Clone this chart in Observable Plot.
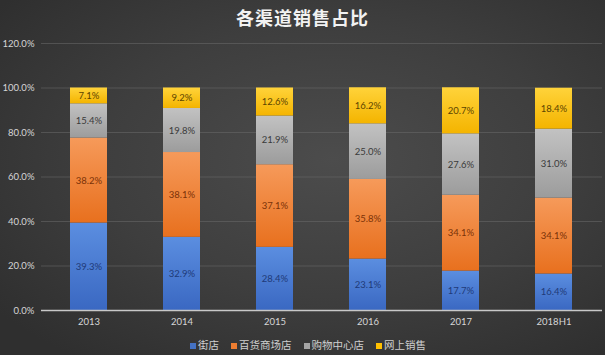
<!DOCTYPE html>
<html><head><meta charset="utf-8">
<script src="https://cdn.jsdelivr.net/npm/d3@7"></script>
<script src="https://cdn.jsdelivr.net/npm/@observablehq/plot@0.6"></script>
<style>
html,body{margin:0;padding:0;}
body{width:605px;height:355px;overflow:hidden;
 background: radial-gradient(ellipse 70% 70% at 55% 45%, #4c4c4c 0%, #3e3e3e 55%, #2f2f2f 100%);
 font-family: Lato, "Noto Sans CJK SC", sans-serif; position:relative;}
#title{position:absolute;top:4px;left:0;width:605px;text-align:center;color:#f2f2f2;font-size:18px;font-weight:bold;font-family:"Noto Sans CJK SC",sans-serif;letter-spacing:1px;}
#chart{position:absolute;top:0;left:0;}
#legend{position:absolute;top:337px;left:190px;display:flex;gap:12px;color:#cfcfcf;font-size:10.5px;font-family:"Noto Sans CJK SC",sans-serif;align-items:center;}
#legend span.sw{display:inline-block;width:6px;height:6px;margin-right:2px;vertical-align:middle;}
</style></head>
<body>
<div id="chart"></div>
<div id="title">各渠道销售占比</div>
<div id="legend"></div>
<script>
const years = ["2013","2014","2015","2016","2017","2018H1"];
const seriesNames = ["街店","百货商场店","购物中心店","网上销售"];
const streetShop = [39.3, 32.9, 28.4, 23.1, 17.7, 16.4];
const deptStore = [38.2, 38.1, 37.1, 35.8, 34.1, 34.1];
const mallStore = [15.4, 19.8, 21.9, 25.0, 27.6, 31.0];
const onlineSales = [7.1, 9.2, 12.6, 16.2, 20.7, 18.4];
const yTicks = [0, 20, 40, 60, 80, 100, 120];

const seriesValues = [streetShop, deptStore, mallStore, onlineSales];
const baseColors = ["#4472C4", "#ED7D31", "#A5A5A5", "#FFC000"];
const gradStops = [["#5b8ee0","#3a68c2"],["#f69a5a","#e8701e"],["#c2c2c2","#9c9c9c"],["#ffd33a","#f4b400"]];
const labelColors = ["#1f3a78", "#7a3208", "#3a3a3a", "#5c4400"];

const rows = [];
years.forEach((yr, i) => {
  let acc = 0;
  seriesValues.forEach((vals, s) => {
    const v = vals[i];
    rows.push({year: yr, series: s, value: v, y1: acc, y2: acc + v, mid: acc + v / 2});
    acc += v;
  });
});

const marks = [
  Plot.gridY(yTicks, {stroke: "#6a6a6a", strokeOpacity: 0.55, strokeWidth: 1}),
];
seriesNames.forEach((name, s) => {
  const d = rows.filter(r => r.series === s);
  marks.push(Plot.rectY(d, {x: "year", y1: "y1", y2: "y2", fill: `url(#g${s})`}));
});
seriesNames.forEach((name, s) => {
  const d = rows.filter(r => r.series === s);
  marks.push(Plot.text(d, {x: "year", y: "mid", text: r => r.value.toFixed(1) + "%", fill: labelColors[s], fontSize: 9.5}));
});
marks.push(Plot.ruleY([0], {stroke: "#c8c8c8", strokeWidth: 1.5}));

const chart = Plot.plot({
  width: 605, height: 335,
  marginTop: 43, marginBottom: 25, marginLeft: 41, marginRight: 3,
  x: {domain: years, paddingInner: 0.6, paddingOuter: 0.3, label: null, tickSize: 0, tickPadding: 8},
  y: {domain: [0, 120], ticks: yTicks, tickFormat: d => d.toFixed(1) + "%", label: null, tickSize: 0, tickPadding: 7},
  style: {background: "transparent", color: "#d6d6d6", fontSize: "9.5px", fontFamily: "Lato, 'Noto Sans CJK SC', sans-serif"},
  marks
});
const ns = "http://www.w3.org/2000/svg";
const defs = document.createElementNS(ns, "defs");
gradStops.forEach((st, s) => {
  const g = document.createElementNS(ns, "linearGradient");
  g.setAttribute("id", "g" + s);
  g.setAttribute("x1", "0"); g.setAttribute("y1", "0"); g.setAttribute("x2", "0"); g.setAttribute("y2", "1");
  st.forEach((c, k) => {
    const stop = document.createElementNS(ns, "stop");
    stop.setAttribute("offset", k === 0 ? "0" : "1");
    stop.setAttribute("stop-color", c);
    g.appendChild(stop);
  });
  defs.appendChild(g);
});
chart.insertBefore(defs, chart.firstChild);
document.getElementById("chart").appendChild(chart);

const legend = document.getElementById("legend");
seriesNames.forEach((name, s) => {
  const item = document.createElement("div");
  item.innerHTML = `<span class="sw" style="background:${baseColors[s]}"></span>${name}`;
  legend.appendChild(item);
});
</script>
</body></html>
